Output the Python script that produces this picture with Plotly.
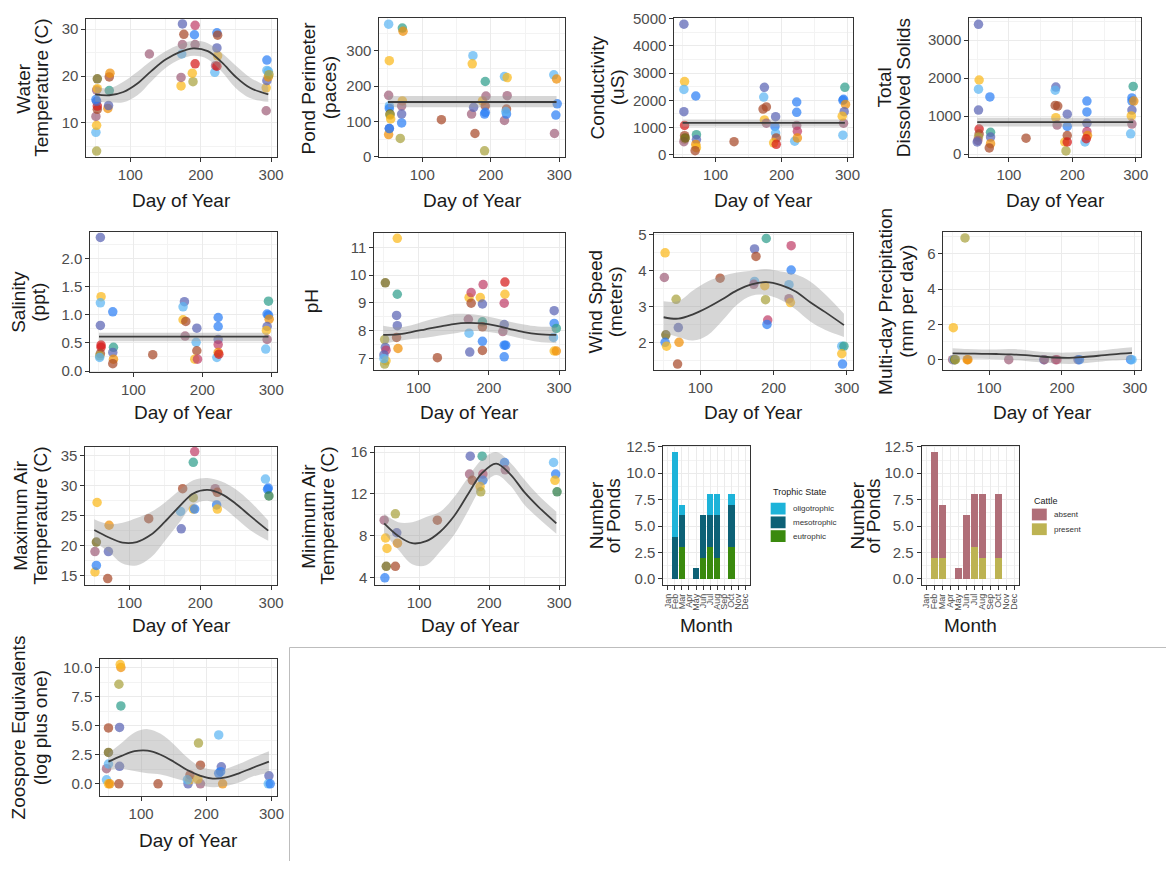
import plotly.graph_objects as go

W, H = 1166, 869
FONT = "Liberation Sans, Arial, sans-serif"

# pond colour codes
COL = {
    'lb': '#5db6f2', 'bl': '#2d7ff5', 'pu': '#5a64b4', 'mv': '#a0607a',
    'br': '#a84a2a', 'rd': '#d51a1a', 'or': '#f0900a', 'go': '#fbb91b',
    'ol': '#a9a23f', 'do': '#6e6010', 'te': '#2f9e8c', 'gr': '#2b7a45',
    'pk': '#c0406a',
}

# ---------------- data ----------------
water_day = [52, 51, 52, 51, 53, 53, 52, 51, 52, 53, 53, 68, 69, 70, 70, 71, 127,
             172, 172, 173, 174, 174, 176, 189, 188, 192, 192, 191, 192,
             220, 221, 223, 224, 223, 223, 224, 293, 293, 294, 296, 294, 296, 294, 297]
water_temp = [4, 8, 9.5, 11.4, 12.9, 13.6, 14.6, 15.0, 17, 17.3, 19.4, 13.1, 13.7, 16.9, 19.8, 20.6, 24.7,
              17.9, 19.7, 24.7, 26.7, 31.1, 28.9, 18.8, 20.6, 22.6, 26.7, 28.8, 30.8,
              20.8, 22.2, 22.1, 24.3, 26.0, 29.2, 28.7, 12.6, 17.5, 19.0, 19.8, 21.2, 21.0, 23.4, 20.3]
water_col = ['ol', 'lb', 'go', 'mv', 'br', 'rd', 'pu', 'bl', 'mv', 'go', 'do', 'or', 'pu', 'te', 'br', 'or', 'mv',
             'go', 'mv', 'lb', 'mv', 'pu', 'br', 'ol', 'go', 'rd', 'mv', 'bl', 'pk',
             'lb', 'mv', 'rd', 'go', 'pu', 'bl', 'br', 'mv', 'go', 'pu', 'or', 'lb', 'lb', 'bl', 'ol']

perim_day = [51, 52, 51, 52, 52, 53, 53, 54, 52, 51, 52, 71, 72, 71, 70, 70, 70, 68, 128,
             174, 173, 172, 175, 177, 188, 191, 192, 193, 192, 192, 191,
             220, 224, 224, 220, 223, 223, 222, 292, 296, 297, 295, 293]
perim_val = [375, 272, 174, 144, 137, 121, 118, 107, 80, 63, 80, 364, 355, 158, 144, 121, 96, 52, 105,
             286, 263, 121, 140, 66, 158, 17, 213, 172, 144, 126, 121,
             227, 224, 173, 103, 135, 121, 128, 232, 220, 150, 118, 66]
perim_col = ['lb', 'go', 'mv', 'lb', 'bl', 'do', 'ol', 'go', 'pu', 'or', 'bl', 'te', 'or', 'go', 'mv', 'pu', 'bl', 'ol', 'br',
             'lb', 'go', 'mv', 'pu', 'br', 'go', 'ol', 'te', 'mv', 'br', 'bl', 'bl',
             'lb', 'go', 'mv', 'mv', 'br', 'bl', 'lb', 'lb', 'or', 'bl', 'bl', 'mv']

cond_day = [52, 53, 52, 52, 53, 53, 53, 52, 54, 70, 71, 71, 70, 71, 69, 128,
            174, 173, 172, 177, 174, 177, 191, 190, 191, 192, 188, 192,
            223, 223, 223, 224, 220, 224, 296, 294, 293, 297, 295, 293, 294, 292]
cond_val = [4800, 2690, 2400, 1585, 1080, 700, 570, 480, 620, 2160, 740, 560, 380, 260, 150, 480,
            2480, 2120, 1680, 1760, 1280, 1160, 1400, 1040, 800, 620, 440, 385,
            1940, 1560, 1080, 860, 500, 620, 2480, 2040, 2000, 1850, 1585, 720, 1160, 1420]
cond_col = ['pu', 'go', 'lb', 'pu', 'rd', 'br', 'ol', 'mv', 'do', 'bl', 'te', 'pu', 'or', 'go', 'br', 'br',
            'pu', 'lb', 'br', 'br', 'go', 'mv', 'pu', 'bl', 'lb', 'br', 'go', 'rd',
            'bl', 'bl', 'mv', 'pk', 'lb', 'or', 'te', 'bl', 'bl', 'or', 'pu', 'lb', 'mv', 'go']

tds_day = [52, 53, 52, 52, 53, 53, 52, 51, 50, 70, 71, 71, 71, 69, 127,
           174, 173, 173, 177, 174, 176, 192, 192, 188, 190, 192, 192,
           223, 223, 223, 223, 220, 224, 222, 296, 294, 294, 297, 294, 293, 294, 292]
tds_val = [3414, 1950, 1710, 1160, 660, 530, 450, 360, 320, 1505, 575, 450, 275, 165, 420,
           1765, 1680, 1280, 1265, 960, 765, 1050, 730, 320, 85, 490, 320,
           1395, 1110, 815, 595, 320, 490, 405, 1780, 1480, 1395, 1395, 1160, 1005, 790, 535]
tds_col = ['pu', 'go', 'lb', 'pu', 'rd', 'br', 'ol', 'mv', 'pu', 'bl', 'te', 'pu', 'or', 'br', 'br',
           'pu', 'lb', 'br', 'br', 'go', 'mv', 'pu', 'bl', 'go', 'ol', 'br', 'rd',
           'bl', 'bl', 'pu', 'pk', 'lb', 'or', 'rd', 'te', 'bl', 'bl', 'or', 'pu', 'go', 'mv', 'lb']

sal_day = [52, 53, 52, 52, 53, 53, 52, 51, 51, 70, 71, 70, 71, 70, 128,
           174, 172, 172, 176, 175, 192, 191, 192, 189, 193,
           223, 223, 223, 223, 221, 223, 224, 296, 294, 296, 297, 294, 293, 294, 292]
sal_val = [2.37, 1.32, 1.21, 0.81, 0.46, 0.42, 0.31, 0.27, 0.24, 1.05, 0.42, 0.33, 0.21, 0.13, 0.29,
           1.23, 1.14, 0.91, 0.88, 0.62, 0.76, 0.51, 0.36, 0.21, 0.21,
           0.95, 0.79, 0.56, 0.47, 0.24, 0.33, 0.30, 1.24, 1.01, 0.99, 0.92, 0.79, 0.72, 0.56, 0.39]
sal_col = ['pu', 'go', 'lb', 'pu', 'rd', 'rd', 'br', 'ol', 'lb', 'bl', 'te', 'pu', 'or', 'br', 'br',
           'pu', 'lb', 'go', 'br', 'mv', 'pu', 'lb', 'br', 'go', 'pk',
           'bl', 'bl', 'pu', 'pk', 'lb', 'or', 'rd', 'te', 'bl', 'bl', 'or', 'pu', 'go', 'mv', 'lb']

ph_day = [53, 52, 53, 54, 51, 54, 52, 51, 70, 70, 69, 70, 69, 71, 127,
          172, 175, 175, 171, 172, 173, 188, 192, 191, 191, 191, 191, 191,
          223, 223, 222, 222, 220, 222, 224, 222, 293, 293, 296, 292, 293, 296]
ph_val = [9.72, 7.68, 7.40, 7.30, 7.13, 6.92, 6.80, 7.0, 11.32, 9.31, 8.55, 8.18, 7.76, 7.36, 7.03,
          9.19, 9.37, 8.99, 8.41, 7.91, 7.23, 9.19, 9.66, 8.96, 8.32, 8.14, 7.62, 7.29,
          9.75, 9.31, 8.99, 8.22, 7.97, 7.48, 7.48, 7.06, 8.72, 8.26, 8.08, 7.76, 7.27, 7.27]
ph_col = ['do', 'ol', 'pu', 'pk', 'pu', 'go', 'ol', 'lb', 'go', 'te', 'pu', 'pu', 'br', 'or', 'br',
          'go', 'pk', 'br', 'mv', 'lb', 'pu', 'go', 'pk', 'pu', 'te', 'br', 'bl', 'br',
          'rd', 'go', 'pk', 'pu', 'mv', 'bl', 'bl', 'bl', 'pu', 'bl', 'te', 'lb', 'go', 'or']

wind_day = [52, 51, 53, 52, 54, 67, 70, 71, 69, 127, 174, 176, 174, 173, 190, 188, 189, 192, 191,
            224, 224, 221, 221, 223, 293, 296, 293, 294]
wind_val = [4.50, 3.81, 2.21, 2.0, 1.89, 3.20, 2.41, 2.0, 1.39, 3.79, 4.61, 4.40, 3.70, 3.62, 4.90, 3.58, 3.19, 2.62, 2.50,
            4.70, 4.02, 3.61, 3.22, 3.11, 1.89, 1.89, 1.68, 1.39]
wind_col = ['go', 'mv', 'do', 'bl', 'go', 'ol', 'pu', 'or', 'br', 'br', 'pu', 'br', 'lb', 'mv', 'te', 'go', 'ol', 'pk', 'bl',
            'pk', 'bl', 'lb', 'mv', 'go', 'lb', 'te', 'go', 'bl']

precip_day = [51, 50, 52, 53, 54, 67, 70, 71, 127, 175, 176, 191, 193, 222, 224, 294, 296]
precip_val = [1.81, 0, 0, 0, 0, 6.9, 0, 0, 0, 0, 0, 0, 0, 0, 0, 0, 0]
precip_col = ['go', 'mv', 'lb', 'do', 'ol', 'ol', 'or', 'or', 'mv', 'pu', 'mv', 'mv', 'pk', 'pu', 'bl', 'bl', 'lb']

tmax_day = [51, 53, 51, 53, 54, 69, 70, 71, 127, 172, 173, 175, 190, 190, 190, 192, 192,
            221, 223, 224, 224, 292, 295, 296, 297]
tmax_val = [15.6, 16.7, 19.0, 20.6, 27.2, 14.5, 19.0, 23.4, 24.5, 25.7, 22.8, 29.5, 26.1, 28.0, 33.9, 35.7, 26.1,
            29.5, 26.8, 26.1, 28.9, 31.1, 29.4, 29.6, 28.3]
tmax_col = ['go', 'bl', 'mv', 'do', 'go', 'br', 'pu', 'or', 'br', 'lb', 'pu', 'br', 'go', 'ol', 'te', 'pk', 'bl',
            'mv', 'bl', 'go', 'br', 'lb', 'bl', 'bl', 'gr']

tmin_day = [51, 53, 52, 54, 50, 66, 68, 69, 66, 126, 173, 172, 176, 190, 191, 191, 187, 188,
            222, 223, 292, 295, 294, 297]
tmin_val = [4.0, 5.1, 7.8, 6.8, 9.5, 10.1, 8.3, 7.3, 5.1, 9.5, 15.6, 13.9, 13.3, 15.6, 13.9, 13.3, 12.7, 12.2,
            15.0, 14.3, 15.0, 13.9, 13.3, 12.2]
tmin_col = ['bl', 'do', 'go', 'go', 'mv', 'ol', 'pu', 'or', 'br', 'br', 'pu', 'mv', 'br', 'te', 'pk', 'bl', 'go', 'ol',
            'bl', 'mv', 'lb', 'bl', 'go', 'gr']

zoo_day = [47, 47, 50, 50, 50, 50, 52, 66, 67, 67, 69, 66, 69, 68, 126, 172, 174, 175, 171,
           188, 191, 191, 187, 219, 223, 222, 219, 225, 296, 295, 298]
zoo_val = [0.34, 1.3, 1.7, 2.7, 4.8, 0.0, 0.0, 0.0, 1.5, 4.85, 6.7, 8.56, 10.0, 10.25, 0.0, 0.0, 0.34, 0.76, 0.34,
           3.5, 1.6, 0.0, 0.4, 4.2, 1.46, 1.04, 0.9, 0.0, 0.68, 0.0, 0.0]
zoo_col = ['lb', 'mv', 'lb', 'do', 'br', 'go', 'or', 'br', 'pu', 'pu', 'te', 'ol', 'or', 'go', 'br', 'pu', 'go', 'br', 'lb',
           'ol', 'br', 'mv', 'go', 'lb', 'pu', 'bl', 'bl', 'or', 'pu', 'lb', 'bl']

# smooth fits
smooth_day = [50, 70, 90, 110, 130, 150, 170, 190, 210, 230, 250, 270, 296]
water_fit = [16.1, 15.9, 16.6, 18.4, 21.1, 23.5, 25.1, 25.9, 25.3, 22.9, 19.8, 17.5, 16.1]
water_lo = [14.5, 14.4, 14.4, 15.9, 18.9, 21.7, 23.5, 24.3, 23.6, 20.9, 17.4, 15.3, 14.5]
water_hi = [17.7, 17.4, 18.8, 20.9, 23.3, 25.3, 26.7, 27.5, 27.0, 24.9, 22.2, 19.7, 17.7]
ph_fit = [7.85, 7.87, 7.95, 8.05, 8.15, 8.24, 8.28, 8.26, 8.18, 8.06, 7.95, 7.88, 7.85]
ph_lo = [7.52, 7.62, 7.70, 7.75, 7.83, 7.90, 7.98, 7.98, 7.92, 7.82, 7.70, 7.60, 7.55]
ph_hi = [8.18, 8.12, 8.20, 8.35, 8.48, 8.60, 8.60, 8.55, 8.45, 8.32, 8.22, 8.15, 8.15]
wind_fit = [2.70, 2.66, 2.78, 2.97, 3.20, 3.45, 3.62, 3.68, 3.60, 3.42, 3.12, 2.85, 2.48]
wind_lo = [2.25, 2.15, 2.05, 2.20, 2.60, 3.05, 3.30, 3.32, 3.18, 2.92, 2.58, 2.35, 2.15]
wind_hi = [3.15, 3.15, 3.45, 3.70, 3.85, 3.95, 4.00, 4.05, 3.98, 3.90, 3.70, 3.35, 2.80]
precip_fit = [0.35, 0.34, 0.33, 0.32, 0.30, 0.25, 0.18, 0.12, 0.10, 0.15, 0.22, 0.30, 0.38]
precip_lo = [0.0, 0.05, 0.05, 0.02, -0.02, -0.08, -0.15, -0.20, -0.25, -0.20, -0.12, -0.05, 0.0]
precip_hi = [0.65, 0.60, 0.58, 0.58, 0.60, 0.55, 0.45, 0.40, 0.40, 0.45, 0.50, 0.60, 0.70]
tmax_fit = [22.6, 21.4, 20.5, 20.6, 21.8, 24.0, 26.5, 28.7, 29.3, 28.6, 27.0, 25.0, 22.5]
tmax_lo = [20.6, 19.0, 17.0, 16.7, 18.0, 20.8, 23.8, 26.8, 27.5, 26.5, 24.6, 22.6, 20.8]
tmax_hi = [24.4, 23.6, 23.8, 24.6, 25.6, 27.2, 29.2, 30.9, 31.3, 30.7, 29.4, 27.4, 24.2]
tmin_fit = [9.2, 8.0, 7.3, 7.5, 8.4, 9.9, 12.0, 14.0, 14.9, 13.9, 12.2, 10.8, 9.2]
tmin_lo = [8.3, 6.7, 5.3, 5.2, 6.5, 8.1, 10.4, 12.7, 13.8, 12.8, 11.0, 9.7, 8.2]
tmin_hi = [10.1, 9.3, 9.3, 9.8, 10.3, 11.7, 13.6, 15.3, 16.0, 15.0, 13.4, 11.9, 10.3]
zoo_fit = [1.9, 2.4, 2.8, 2.85, 2.5, 1.9, 1.2, 0.7, 0.45, 0.55, 0.9, 1.35, 1.9]
zoo_lo = [1.2, 1.3, 1.1, 0.9, 0.8, 0.5, 0.2, -0.1, -0.3, -0.2, 0.1, 0.6, 0.95]
zoo_hi = [2.6, 3.5, 4.4, 4.7, 4.3, 3.4, 2.3, 1.5, 1.2, 1.3, 1.7, 2.2, 2.8]

flat_day = [50, 296]
perim_fit, perim_lo, perim_hi = [155, 155], [140, 140], [172, 172]
cond_fit, cond_lo, cond_hi = [1170, 1170], [1040, 1040], [1300, 1300]
tds_fit, tds_lo, tds_hi = [840, 840], [730, 730], [960, 960]
sal_fit, sal_lo, sal_hi = [0.61, 0.61], [0.53, 0.53], [0.68, 0.68]

months = ['Jan', 'Feb', 'Mar', 'Apr', 'May', 'Jun', 'Jul', 'Aug', 'Sep', 'Oct', 'Nov', 'Dec']
bar_months = ['Feb', 'Mar', 'May', 'Jun', 'Jul', 'Aug', 'Oct']
oligotrophic = [8, 1, 0, 0, 2, 2, 1]
mesotrophic = [4, 3, 1, 4, 3, 4, 4]
eutrophic = [0, 3, 0, 2, 3, 2, 3]
cattle_absent = [10, 5, 1, 6, 5, 6, 6]
cattle_present = [2, 2, 0, 0, 3, 2, 2]
bar_pos = [months.index(m) for m in bar_months]

# ---------------- layout helpers ----------------
fig = go.Figure()
layout = dict(width=W, height=H, margin=dict(l=0, r=0, t=0, b=0),
              paper_bgcolor='white', plot_bgcolor='white', barmode='stack',
              font=dict(family=FONT), showlegend=False)
annotations = []
shapes = []


def ax_names(i):
    return ('xaxis' if i == 1 else f'xaxis{i}', 'yaxis' if i == 1 else f'yaxis{i}',
            'x' if i == 1 else f'x{i}', 'y' if i == 1 else f'y{i}')


AX = dict(showline=True, mirror=True, linecolor='#333333', linewidth=1,
          ticks='outside', ticklen=4, tickcolor='#333333', tickwidth=1,
          tickfont=dict(family=FONT, size=15, color='#4d4d4d'),
          showgrid=True, gridcolor='#ebebeb', gridwidth=1.1, zeroline=False)


def minor(dt, t0=0):
    return dict(dtick=dt, tick0=t0, showgrid=True, gridcolor='#f3f3f3', gridwidth=0.6)


def set_axes(i, box, yrange, ydt, xcat=False, yfmt=None):
    l, r, t, b = box
    xa, ya, _, _ = ax_names(i)
    if xcat:
        layout[xa] = dict(AX, domain=[l / W, r / W], range=[-0.6, 11.6], tickmode='array',
                          tickvals=list(range(12)), ticktext=months, tickangle=-90,
                          tickfont=dict(family=FONT, size=9, color='#4d4d4d'), anchor=ax_names(i)[3])
    else:
        layout[xa] = dict(AX, domain=[l / W, r / W], range=[37.5, 308.5], dtick=100, tick0=0,
                          minor=minor(50), anchor=ax_names(i)[3])
    layout[ya] = dict(AX, domain=[1 - b / H, 1 - t / H], range=yrange, dtick=ydt, tick0=0,
                      minor=minor(ydt / 2), anchor=ax_names(i)[2])
    if yfmt:
        layout[ya]['tickformat'] = yfmt


def ytitle(lines, xs, box):
    yc = (box[2] + box[3]) / 2
    for txt, x in zip(lines, xs):
        annotations.append(dict(text=txt, x=x / W, y=1 - yc / H, xref='paper', yref='paper',
                                showarrow=False, textangle=-90, xanchor='center', yanchor='middle',
                                font=dict(family=FONT, size=19, color='#1a1a1a')))


def xtitle(txt, box, y):
    annotations.append(dict(text=txt, x=(box[0] + box[1]) / 2 / W, y=1 - y / H, xref='paper', yref='paper',
                            showarrow=False, xanchor='center', yanchor='middle',
                            font=dict(family=FONT, size=19, color='#1a1a1a')))


def scatter_panel(i, box, xs, ys, cs, yrange, ydt, sx, fit, lo, hi, titles, tx, xty,
                  shape='spline', yfmt=None):
    _, _, xr, yr = ax_names(i)
    set_axes(i, box, yrange, ydt, yfmt=yfmt)
    fig.add_trace(go.Scatter(x=xs, y=ys, mode='markers', xaxis=xr, yaxis=yr, showlegend=False,
                             marker=dict(size=9.5, color=[COL[c] for c in cs], opacity=0.72,
                                         line=dict(width=0))))
    fig.add_trace(go.Scatter(x=sx, y=lo, mode='lines', xaxis=xr, yaxis=yr, showlegend=False,
                             line=dict(width=0, shape=shape), hoverinfo='skip'))
    fig.add_trace(go.Scatter(x=sx, y=hi, mode='lines', xaxis=xr, yaxis=yr, showlegend=False,
                             line=dict(width=0, shape=shape), fill='tonexty',
                             fillcolor='rgba(153,153,153,0.4)', hoverinfo='skip'))
    fig.add_trace(go.Scatter(x=sx, y=fit, mode='lines', xaxis=xr, yaxis=yr, showlegend=False,
                             line=dict(width=1.8, color='#3d3d3d', shape=shape)))
    ytitle(titles, tx, box)
    xtitle('Day of Year', box, xty)


def legend_block(title, x, ty, items, rows):
    annotations.append(dict(text=title, x=x / W, y=1 - ty / H, xref='paper', yref='paper',
                            showarrow=False, xanchor='left', yanchor='middle',
                            font=dict(family=FONT, size=9, color='#1a1a1a')))
    for (label, col), ry in zip(items, rows):
        shapes.append(dict(type='rect', xref='paper', yref='paper', x0=x / W, x1=(x + 15) / W,
                           y0=1 - (ry - 6) / H, y1=1 - (ry + 6) / H, fillcolor=col, line=dict(width=0)))
        annotations.append(dict(text=label, x=(x + 20) / W, y=1 - ry / H, xref='paper', yref='paper',
                                showarrow=False, xanchor='left', yanchor='middle',
                                font=dict(family=FONT, size=8, color='#333333')))


# ---------------- panels ----------------
scatter_panel(1, (86, 278, 11, 152), water_day, water_temp, water_col, [2.7, 32.2], 10,
              smooth_day, water_fit, water_lo, water_hi, ['Water', 'Temperature (C)'], [23, 41], 196)
scatter_panel(2, (381, 568, 10, 152), perim_day, perim_val, perim_col, [-1, 393], 100,
              flat_day, perim_fit, perim_lo, perim_hi, ['Pond Perimeter', '(paces)'], [310, 331], 196, 'linear')
scatter_panel(3, (678, 858, 10, 152), cond_day, cond_val, cond_col, [-90, 5035], 1000,
              flat_day, cond_fit, cond_lo, cond_hi, ['Conductivity', '(uS)'], [601, 621], 196, 'linear')
scatter_panel(4, (975, 1148, 10, 152), tds_day, tds_val, tds_col, [-80, 3585], 1000,
              flat_day, tds_fit, tds_lo, tds_hi, ['Total', 'Dissolved Solids'], [890, 909], 196, 'linear')
scatter_panel(5, (90, 278, 228, 371), sal_day, sal_val, sal_col, [-0.02, 2.47], 0.5,
              flat_day, sal_fit, sal_lo, sal_hi, ['Salinity', '(ppt)'], [18, 38], 412, 'linear', yfmt='.1f')
scatter_panel(6, (376, 568, 229, 369), ph_day, ph_val, ph_col, [6.58, 11.52], 1,
              smooth_day, ph_fit, ph_lo, ph_hi, ['pH'], [313], 412)
scatter_panel(7, (658, 858, 229, 369), wind_day, wind_val, wind_col, [1.22, 5.06], 1,
              smooth_day, wind_fit, wind_lo, wind_hi, ['Wind Speed', '(meters)'], [599, 619], 412)
scatter_panel(8, (949, 1148, 228, 369), precip_day, precip_val, precip_col, [-0.6, 7.25], 2,
              smooth_day, precip_fit, precip_lo, precip_hi, ['Multi-day Precipitation', '(mm per day)'],
              [890, 911], 412)
scatter_panel(9, (85, 278, 447, 588), tmax_day, tmax_val, tmax_col, [13.4, 36.5], 5,
              smooth_day, tmax_fit, tmax_lo, tmax_hi, ['Maximum Air', 'Temperature (C)'], [20, 40], 629)
scatter_panel(10, (377, 568, 447, 588), tmin_day, tmin_val, tmin_col, [3.3, 16.5], 4,
              smooth_day, tmin_fit, tmin_lo, tmin_hi, ['Minimum Air', 'Temperature (C)'], [310, 329], 629)
scatter_panel(13, (100, 278, 663, 803), zoo_day, zoo_val, zoo_col, [-1.07, 10.75], 2.5,
              smooth_day, zoo_fit, zoo_lo, zoo_hi, ['Zoospore Equivalents', '(log plus one)'], [18, 40], 848,
              yfmt='.1f')

# bar panels
box11 = (667, 754, 446, 588)
box12 = (927, 1025, 446, 588)
set_axes(11, box11, [-0.6, 12.6], 2.5, xcat=True, yfmt='.1f')
set_axes(12, box12, [-0.6, 12.6], 2.5, xcat=True, yfmt='.1f')
TROPH = {'oligotrophic': '#1db3d9', 'mesotrophic': '#0d6176', 'eutrophic': '#3a8a0e'}
CATTLE = {'absent': '#b06e78', 'present': '#bdb352'}
for name, vals in [('eutrophic', eutrophic), ('mesotrophic', mesotrophic), ('oligotrophic', oligotrophic)]:
    fig.add_trace(go.Bar(x=bar_pos, y=vals, name=name, xaxis='x11', yaxis='y11', width=0.9,
                         marker=dict(color=TROPH[name], line=dict(width=0)), showlegend=False))
for name, vals in [('present', cattle_present), ('absent', cattle_absent)]:
    fig.add_trace(go.Bar(x=bar_pos, y=vals, name=name, xaxis='x12', yaxis='y12', width=0.9,
                         marker=dict(color=CATTLE[name], line=dict(width=0)), showlegend=False))
ytitle(['Number', 'of Ponds'], [600, 617], box11)
ytitle(['Number', 'of Ponds'], [862, 879], box12)
xtitle('Month', box11, 629)
xtitle('Month', box12, 629)

legend_block('Trophic State', 775, 493,
             [(k, TROPH[k]) for k in ['oligotrophic', 'mesotrophic', 'eutrophic']], [510, 524, 538])
legend_block('Cattle', 1038, 502, [(k, CATTLE[k]) for k in ['absent', 'present']], [516, 531])

# frame around empty area
fx0, fy0 = 290.5 / W, 1 - 651.5 / H
shapes.append(dict(type='path', xref='paper', yref='paper',
                   path=f'M {fx0} 0 L {fx0} {fy0} L 1.01 {fy0}',
                   line=dict(color='#bdbdbd', width=1)))
layout['shapes'] = shapes
layout['annotations'] = annotations
fig.update_layout(**layout)
fig.write_html('out.html')
